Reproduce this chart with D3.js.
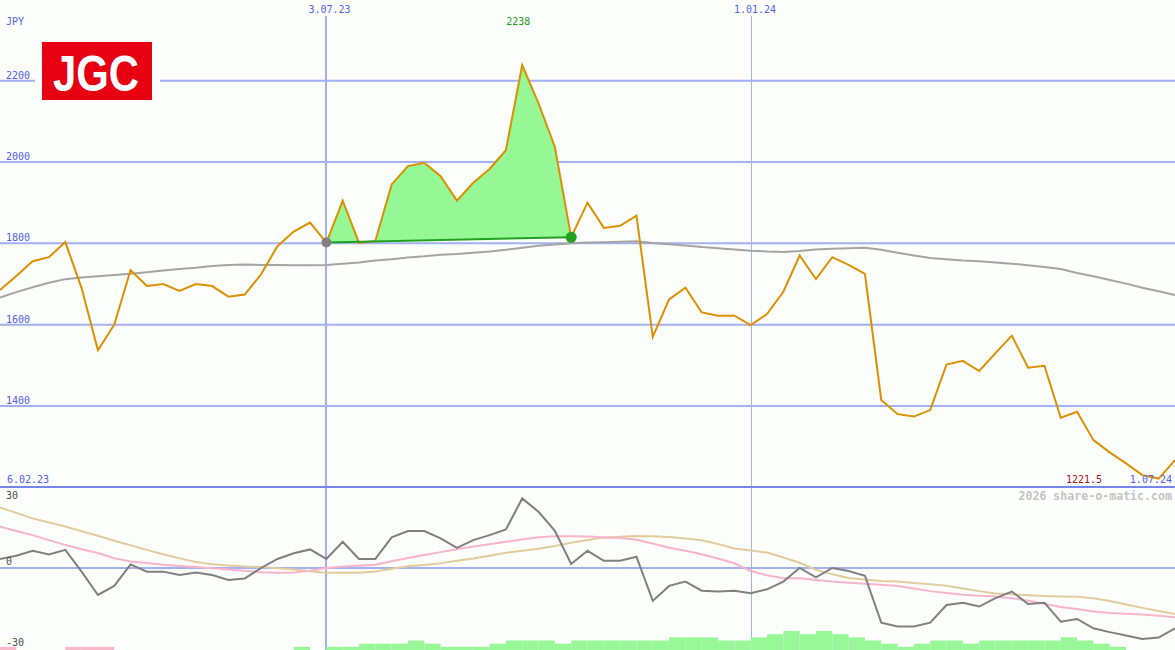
<!DOCTYPE html>
<html>
<head>
<meta charset="utf-8">
<script src="https://cdn.jsdelivr.net/npm/d3@7"></script>
<style>
  body { margin: 0; background: #fcfefc; }
  svg { display: block; }
  text { font-family: "DejaVu Sans Mono", monospace; }
</style>
</head>
<body>
<svg id="chart" width="1175" height="650"></svg>
<script>
// weekly closes, JPY
const price = [1685, 1720, 1756, 1766, 1803, 1690, 1537, 1600, 1734, 1695,
  1700, 1683, 1700, 1695, 1669, 1674, 1724, 1793, 1829, 1851,
  1802, 1905, 1801, 1806, 1945, 1990, 1998, 1965, 1905, 1949,
  1983, 2029, 2238, 2144, 2037, 1815, 1900, 1838, 1843, 1868,
  1570, 1662, 1691, 1630, 1622, 1622, 1599, 1626, 1681, 1770,
  1712, 1766, 1747, 1725, 1415, 1380, 1374, 1390, 1502, 1511,
  1486, 1530, 1573, 1494, 1499, 1371, 1386, 1316, 1286, 1259,
  1230, 1221.5, 1267];

const movingAvg = [1667, 1680, 1692, 1703, 1712, 1716, 1719, 1722, 1725, 1729,
  1733, 1737, 1740, 1744, 1747, 1748, 1747, 1747, 1746, 1746,
  1747, 1750, 1753, 1758, 1761, 1765, 1768, 1772, 1774, 1777,
  1780, 1784, 1789, 1794, 1797, 1800, 1802, 1803, 1804, 1805,
  1801, 1798, 1795, 1791, 1788, 1785, 1782, 1780, 1779, 1781,
  1785, 1787, 1788, 1789, 1784, 1777, 1770, 1764, 1761, 1758,
  1756, 1753, 1750, 1746, 1742, 1737, 1727, 1719, 1710, 1701,
  1691, 1682, 1673];

const momentum = [4, 5.4, 7.6, 6, 8, -1.6, -11.9, -7.9, 1.6, -1.6,
  -1.6, -3.1, -2, -3.1, -5.3, -4.6, 0, 4, 6.5, 8.2,
  4, 11.6, 4, 4, 13.5, 16.3, 16.3, 13.1, 8.9, 12.3,
  14.5, 17, 30.7, 24.8, 16.4, 1.8, 7.6, 3.2, 3.2, 5,
  -14.5, -7.9, -6, -10, -10.4, -10, -11.1, -9.4, -6, 0,
  -4.1, 0, -1.3, -3.4, -24.1, -25.8, -25.8, -24.1, -16.3, -15.3,
  -17, -13.3, -10.4, -15.9, -15.3, -23.7, -22.5, -26.6, -28.3, -29.8,
  -31.3, -30.7, -26.6];

const signalFast = [18.2, 16.3, 14.5, 12.3, 10.2, 8.3, 6.6, 4.3, 2.9, 2.2,
  1.4, 0.9, 0.4, -0.1, -0.7, -1.2, -1.9, -2.1, -2.0, -1.2,
  0, 0.7, 1.0, 1.4, 3.0, 4.4, 5.7, 7.0, 8.3, 9.5,
  10.5, 11.6, 12.6, 13.6, 14.0, 14.0, 13.9, 13.6, 13.2, 12.5,
  10.8, 8.9, 7.6, 6.1, 4.2, 2.1, -1.3, -3.2, -4.5, -4.5,
  -5.3, -6.0, -6.5, -7.0, -7.4, -7.9, -9.0, -10.2, -11.0, -11.8,
  -12.2, -12.6, -13.3, -14.4, -15.8, -17.2, -18.1, -19.2, -19.9, -20.2,
  -20.5, -21.1, -21.7];

const signalSlow = [26.7, 24.3, 21.9, 20.1, 18.3, 16.2, 14.2, 12.0, 10.0, 8.0,
  6.1, 4.3, 2.6, 1.7, 1.1, 0.7, 0.4, -0.1, -0.7, -1.4,
  -2.1, -2.1, -2.1, -1.5, -0.3, 0.8, 1.3, 2.1, 3.2, 4.2,
  5.4, 6.7, 7.6, 8.5, 9.7, 11.1, 12.4, 13.4, 13.8, 14.1,
  14.0, 13.7, 13.0, 12.2, 10.6, 8.6, 7.7, 6.8, 4.6, 2.3,
  -0.8, -2.8, -4.4, -5.1, -5.7, -6.0, -6.6, -7.2, -7.8, -9.0,
  -10.2, -11.2, -11.6, -12.0, -12.4, -12.6, -12.7, -13.3, -14.6, -16.1,
  -17.6, -19.0, -20.3];

// trend strength bars (green +, pink -)
const strength = [-1, 0, 0, 0, -1, -1, -1, 0, 0, 0,
  0, 0, 0, 0, 0, 0, 0, 0, 1, 0,
  1, 1, 2, 2, 2, 3, 2, 1, 1, 1,
  2, 3, 3, 3, 2, 3, 3, 3, 3, 3,
  3, 4, 4, 4, 3, 3, 4, 5, 6, 5,
  6, 5, 4, 3, 2, 1, 2, 3, 3, 2,
  3, 3, 3, 3, 3, 4, 3, 2, 1, 0,
  0, 0, 0];

const priceTicks = [1400, 1600, 1800, 2000, 2200];
const lowerTicks = [30, 0, -30];
const dateTicks = [{ date: "2023-07-03", label: "3.07.23", thick: true },
  { date: "2024-01-01", label: "1.01.24", thick: false }];
const trade = { from: 20, to: 35 }; // week indices of the marked swing

const dates = d3.utcMonday.range(new Date(Date.UTC(2023, 1, 13)), new Date(Date.UTC(2024, 6, 2)));
const parseDay = d3.utcParse("%Y-%m-%d");

const svg = d3.select("#chart"),
  width = +svg.attr("width"),
  height = +svg.attr("height");

const x = d3.scaleUtc().domain([dates[0], dates[dates.length - 1]]).range([0, width]);
const y = d3.scaleLinear().domain([1400, 2200]).range([406, 80.7]);
const yLow = d3.scaleLinear().domain([-30, 30]).range([636, 500]);
const yBar = d3.scaleLinear().domain([0, 6]).range([650, 631]);

const blue = "#a3b1f2", blueText = "#5060ee";

svg.append("rect").attr("width", width).attr("height", height).attr("fill", "#fcfefc");

// price grid
svg.append("g").selectAll("line").data(priceTicks).enter().append("line")
  .attr("x1", 0).attr("x2", width)
  .attr("y1", (d) => y(d)).attr("y2", (d) => y(d))
  .attr("stroke", blue).attr("stroke-width", 2);
svg.append("g").selectAll("text").data(priceTicks).enter().append("text")
  .attr("x", 6).attr("y", (d) => y(d) - 2)
  .attr("font-size", 10).attr("fill", blueText)
  .text((d) => d);

// lower panel zero line
svg.append("line").attr("x1", 0).attr("x2", width)
  .attr("y1", yLow(0)).attr("y2", yLow(0))
  .attr("stroke", blue).attr("stroke-width", 2);

// date verticals
dateTicks.forEach(function (t) {
  const xx = Math.round(x(parseDay(t.date))) + (t.thick ? 0 : 0.5);
  svg.append("line").attr("x1", xx).attr("x2", xx).attr("y1", 16).attr("y2", height)
    .attr("stroke", blue).attr("stroke-width", t.thick ? 2 : 1);
  svg.append("text").attr("x", xx + 3.5).attr("y", 13)
    .attr("text-anchor", "middle").attr("font-size", 10).attr("fill", blueText)
    .text(t.label);
});

// separator axis
svg.append("line").attr("x1", 0).attr("x2", width).attr("y1", 487).attr("y2", 487)
  .attr("stroke", "#7585ec").attr("stroke-width", 2);

// strength bars, one week wide
const barW = x(dates[1]) - x(dates[0]);
svg.append("g").selectAll("rect")
  .data(strength.map((v, i) => ({ v: v, date: dates[i] })).filter((d) => d.v !== 0))
  .enter().append("rect")
  .attr("x", (d) => x(d.date))
  .attr("y", (d) => yBar(Math.abs(d.v)))
  .attr("width", barW)
  .attr("height", (d) => yBar(0) - yBar(Math.abs(d.v)))
  .attr("fill", (d) => (d.v > 0 ? "#98f898" : "#f8b8cc"));

// lower lines
const lowLine = d3.line().x((d, i) => x(dates[i])).y((d) => yLow(d));
svg.append("path").datum(signalSlow).attr("d", lowLine)
  .attr("fill", "none").attr("stroke", "#e2cc9e").attr("stroke-width", 2);
svg.append("path").datum(signalFast).attr("d", lowLine)
  .attr("fill", "none").attr("stroke", "#f8b4c8").attr("stroke-width", 2);
svg.append("path").datum(momentum).attr("d", lowLine)
  .attr("fill", "none").attr("stroke", "#808080").attr("stroke-width", 2);

svg.append("g").selectAll("text").data(lowerTicks).enter().append("text")
  .attr("x", 6).attr("y", (d) => (d === 30 ? 499 : d === 0 ? 565 : 646))
  .attr("font-size", 10).attr("fill", "#505050")
  .text((d) => d);

// moving average
const priceLine = d3.line().x((d, i) => x(dates[i])).y((d) => y(d));
svg.append("path").datum(movingAvg).attr("d", priceLine)
  .attr("fill", "none").attr("stroke", "#a4a4a4").attr("stroke-width", 2);

// marked swing: area between price and the straight line joining its ends
const idx = d3.range(trade.from, trade.to + 1);
const base = d3.scaleLinear()
  .domain([dates[trade.from], dates[trade.to]])
  .range([price[trade.from], price[trade.to]]);
svg.append("path").datum(idx)
  .attr("d", d3.area()
    .x((i) => x(dates[i]))
    .y0((i) => y(base(dates[i])))
    .y1((i) => y(Math.max(price[i], base(dates[i])))))
  .attr("fill", "#96f894");

svg.append("path").datum(price).attr("d", priceLine)
  .attr("fill", "none").attr("stroke", "#dc9000").attr("stroke-width", 2);

svg.append("line")
  .attr("x1", x(dates[trade.from])).attr("y1", y(price[trade.from]))
  .attr("x2", x(dates[trade.to])).attr("y2", y(price[trade.to]))
  .attr("stroke", "#22a022").attr("stroke-width", 2);
svg.append("circle").attr("cx", x(dates[trade.from])).attr("cy", y(price[trade.from]))
  .attr("r", 5).attr("fill", "#808080");
svg.append("circle").attr("cx", x(dates[trade.to])).attr("cy", y(price[trade.to]))
  .attr("r", 5.5).attr("fill", "#22a022");

// labels
const hi = d3.max(price), lo = d3.min(price);
svg.append("text").attr("x", x(dates[price.indexOf(hi)]) - 4).attr("y", 25)
  .attr("text-anchor", "middle").attr("font-size", 10).attr("fill", "#1a9a1a").text(hi);
svg.append("text").attr("x", 1102).attr("y", 483)
  .attr("text-anchor", "end").attr("font-size", 10).attr("fill", "#a01818").text(lo);
svg.append("text").attr("x", 7).attr("y", 483)
  .attr("font-size", 10).attr("fill", blueText).text("6.02.23");
svg.append("text").attr("x", 1172).attr("y", 483)
  .attr("text-anchor", "end").attr("font-size", 10).attr("fill", blueText).text("1.07.24");
svg.append("text").attr("x", 6).attr("y", 25)
  .attr("font-size", 10).attr("fill", blueText).text("JPY");
svg.append("text").attr("x", 1172).attr("y", 500)
  .attr("text-anchor", "end").attr("font-size", 11.6).attr("font-weight", "bold")
  .attr("fill", "#c4c4c4").text("2026 share-o-matic.com");

// logo
const logo = svg.append("g");
logo.append("rect").attr("x", 35).attr("y", 38).attr("width", 125).attr("height", 66).attr("fill", "#fcfefc");
logo.append("rect").attr("x", 42).attr("y", 42).attr("width", 110).attr("height", 58).attr("fill", "#e60012");
logo.append("text").attr("x", 53).attr("y", 90.5)
  .style("font-family", "'Liberation Sans', Arial, sans-serif").attr("font-weight", "bold")
  .attr("font-size", 50).attr("fill", "#fff")
  .attr("textLength", 86).attr("lengthAdjust", "spacingAndGlyphs")
  .text("JGC");
</script>
</body>
</html>
